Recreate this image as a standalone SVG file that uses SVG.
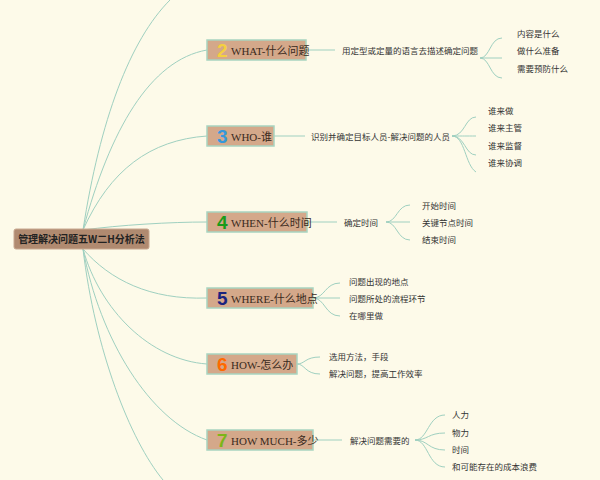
<svg xmlns="http://www.w3.org/2000/svg" width="600" height="480" viewBox="0 0 600 480">
<style>
.n rect{fill:#d4a88a;stroke:#a8d4c0;stroke-width:1.5}
.t{font-family:"Liberation Serif","Noto Sans CJK SC",serif;font-size:11px;fill:#3a2a20}
.num{font-family:"Liberation Sans",sans-serif;font-size:19px;font-weight:bold}
.s{font-family:"Noto Sans CJK SC",sans-serif;font-size:8.5px;fill:#333}
#c path{fill:none;stroke:#9fd0c0;stroke-width:1}
</style>
<rect width="600" height="480" fill="#fdfae9"/>
<g id="c">
<path d="M83,230 C100,120 130,40 170,0"/>
<path d="M83,230 C110,130 150,60 207,50"/>
<path d="M83,230 C110,170 150,140 207,136"/>
<path d="M83,230 C120,225 170,222 207,222"/>
<path d="M83,249 C110,280 150,300 207,298"/>
<path d="M83,249 C100,310 150,360 207,364"/>
<path d="M83,249 C100,340 150,420 207,440"/>
<path d="M83,249 C95,350 130,440 163,480"/>
<path d="M306,50 H335"/><path d="M480,58 C490,58 490,38 502,38"/><path d="M480,58 H502"/><path d="M480,58 C490,58 490,78 502,78"/>
<path d="M274,136 H305"/><path d="M452,136 C465,136 465,117 476,117"/><path d="M452,136 C465,136 465,136 476,136"/><path d="M452,136 C465,136 465,155 476,155"/><path d="M452,136 C465,136 465,165 476,172"/>
<path d="M307,222 H337"/><path d="M386,222 C397,222 397,205 410,205"/><path d="M386,222 H410"/><path d="M386,222 C397,222 397,240 410,240"/>
<path d="M313,298 H340"/><path d="M313,298 C325,298 325,283 340,283"/><path d="M313,298 C325,298 325,316 340,316"/>
<path d="M297,364 C305,364 305,357 320,357"/><path d="M297,364 C305,364 305,374 320,374"/>
<path d="M313,440 H342"/><path d="M415,440 C428,440 428,415 445,415"/><path d="M415,440 C428,440 428,433 445,433"/><path d="M415,440 C428,440 428,450 445,450"/><path d="M415,440 C428,440 428,467 445,467"/>
</g>
<g id="root"><rect x="14" y="229" width="135" height="20" rx="2" fill="#b08a70" stroke="#c8a890"/><text x="81.5" y="243" text-anchor="middle" font-family="Noto Sans CJK SC,sans-serif" font-size="10" font-weight="bold" fill="#222">管理解决问题五W二H分析法</text></g>
<g id="n2" class="n"><rect x="207" y="40" width="99" height="20"/><text x="217" y="57" class="num" fill="#f4d03f">2</text><text x="231" y="54.5" class="t">WHAT-什么问题</text></g>
<g id="n3" class="n"><rect x="207" y="126" width="67" height="20"/><text x="217" y="143" class="num" fill="#3498db">3</text><text x="231" y="140.5" class="t">WHO-谁</text></g>
<g id="n4" class="n"><rect x="207" y="212" width="100" height="20"/><text x="217" y="229" class="num" fill="#1a9a1a">4</text><text x="231" y="226.5" class="t">WHEN-什么时间</text></g>
<g id="n5" class="n"><rect x="207" y="288" width="106" height="20"/><text x="217" y="305" class="num" fill="#1a237e">5</text><text x="231" y="302.5" class="t">WHERE-什么地点</text></g>
<g id="n6" class="n"><rect x="207" y="354" width="90" height="20"/><text x="217" y="371" class="num" fill="#ff6a00">6</text><text x="231" y="368.5" class="t">HOW-怎么办</text></g>
<g id="n7" class="n"><rect x="207" y="430" width="106" height="20"/><text x="217" y="447" class="num" fill="#7cb518">7</text><text x="231" y="444.5" class="t">HOW MUCH-多少</text></g>
<g id="leaves" class="s">
<text x="342" y="54">用定型或定量的语言去描述确定问题</text>
<text x="517" y="37">内容是什么</text><text x="517" y="54">做什么准备</text><text x="517" y="72">需要预防什么</text>
<text x="311" y="140">识别并确定目标人员-解决问题的人员</text>
<text x="488" y="114">谁来做</text><text x="488" y="131">谁来主管</text><text x="488" y="149">谁来监督</text><text x="488" y="166">谁来协调</text>
<text x="344" y="226">确定时间</text>
<text x="422" y="209">开始时间</text><text x="422" y="226">关键节点时间</text><text x="422" y="243">结束时间</text>
<text x="349" y="285">问题出现的地点</text><text x="349" y="302">问题所处的流程环节</text><text x="349" y="319">在哪里做</text>
<text x="329" y="360">选用方法，手段</text><text x="329" y="377">解决问题，提高工作效率</text>
<text x="350" y="444">解决问题需要的</text>
<text x="452" y="418">人力</text><text x="452" y="436">物力</text><text x="452" y="453">时间</text><text x="452" y="470">和可能存在的成本浪费</text>
</g>
</svg>
